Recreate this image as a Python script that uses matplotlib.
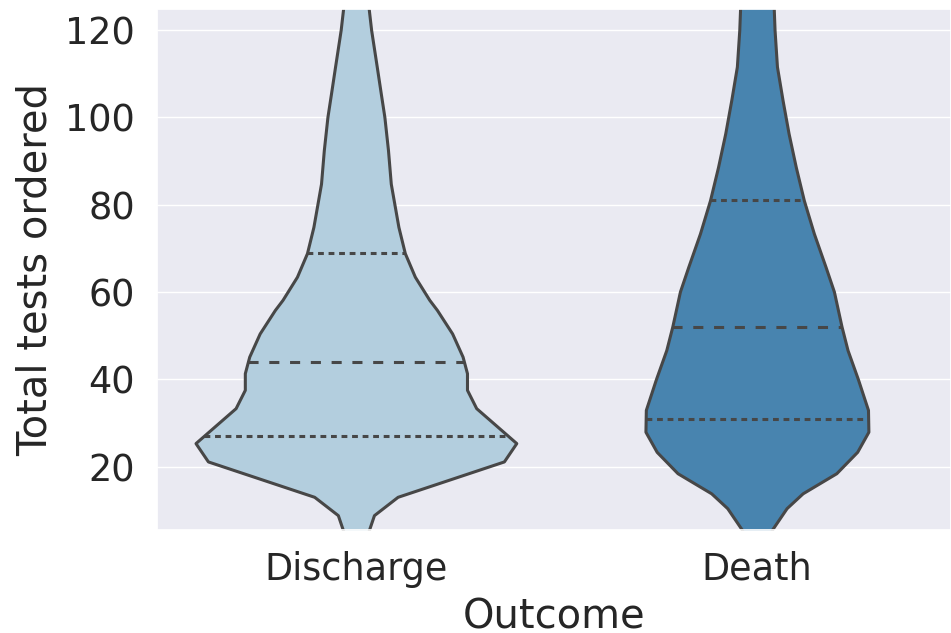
import numpy as np
import matplotlib
matplotlib.use("Agg")
import matplotlib.pyplot as plt
import seaborn as sns

# categories and their summary values
outcomes = ["Discharge", "Death"]
quartiles = {
    "Discharge": [27, 44, 69],
    "Death": [31, 52, 81],
}

# violin outline: total tests (y) and half width of the density, in category units
discharge_y = [0, 5.1, 8.9, 13.1, 21.2, 25.4, 33.4, 37.6, 41.4, 45.2, 50.5, 55.9,
               58.2, 63.5, 68.9, 74.9, 80.1, 84.8, 92.5, 100.1, 105.5, 111.6,
               120.0, 124.8, 135]
discharge_hw = [0.025, 0.031, 0.045, 0.104, 0.369, 0.400, 0.300, 0.277, 0.277,
                0.266, 0.240, 0.202, 0.183, 0.147, 0.122, 0.106, 0.096, 0.087,
                0.080, 0.071, 0.062, 0.052, 0.038, 0.032, 0.025]

death_y = [0, 5.5, 10.5, 13.9, 18.5, 23.4, 28.0, 33.0, 40.0, 46.7, 52.1, 60.1,
           65.8, 73.4, 81.0, 88.6, 96.3, 103.9, 111.6, 120.0, 124.8, 135]
death_hw = [0.030, 0.037, 0.074, 0.114, 0.198, 0.250, 0.278, 0.277, 0.252, 0.226,
            0.211, 0.192, 0.171, 0.142, 0.117, 0.097, 0.079, 0.064, 0.050, 0.044,
            0.042, 0.040]

profiles = {
    "Discharge": (discharge_y, discharge_hw),
    "Death": (death_y, death_hw),
}

sns.set_theme(style="darkgrid", font_scale=2.4)
pal = [sns.desaturate(c, 0.75) for c in sns.color_palette("Blues", 2)]
line_col = "#474747"

fig = plt.figure(figsize=(9.51, 6.33), dpi=100)
ax = fig.add_axes([157 / 951, 103 / 633, 794 / 951, 521 / 633])

for i, name in enumerate(outcomes):
    y = np.array(profiles[name][0])
    hw = np.array(profiles[name][1])
    ax.fill_betweenx(y, i - hw, i + hw, facecolor=pal[i], edgecolor=line_col,
                     linewidth=2.2, zorder=2)
    q1, med, q3 = quartiles[name]
    for val, dash in [(q1, (1.9, 1.55)), (med, (3.3, 3.5)), (q3, (1.9, 1.55))]:
        w = np.interp(val, y, hw)
        ax.plot([i - w, i + w], [val, val], color=line_col, linewidth=2.2,
                dashes=dash, dash_capstyle="butt", zorder=3)

ax.set_xlim(-0.496, 1.484)
ax.set_ylim(5.5, 124.8)
ax.set_xticks(range(len(outcomes)))
ax.set_xticklabels(outcomes)
ax.set_yticks([20, 40, 60, 80, 100, 120])
ax.xaxis.grid(False)
ax.tick_params(axis="x", pad=9)
ax.tick_params(axis="y", pad=10)
ax.set_xlabel("Outcome", labelpad=7)
ax.set_ylabel("Total tests ordered", labelpad=6.5)

fig.savefig("out.png", dpi=100)
